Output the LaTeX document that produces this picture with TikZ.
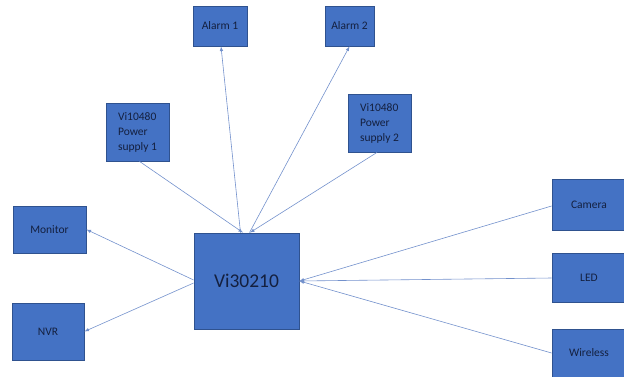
\documentclass[tikz,border=0pt]{standalone}
\usepackage{fontspec}
\setmainfont{Carlito}
\usetikzlibrary{calc}
\definecolor{boxblue}{HTML}{4472C4}
\definecolor{boxedge}{HTML}{2F528F}
\definecolor{txtnavy}{HTML}{14203F}
\definecolor{wireblue}{HTML}{7391CC}
\begin{document}
\begin{tikzpicture}[>=latex, x=1pt, y=-1pt,
  unit/.style={draw=boxedge, line width=.8pt, fill=boxblue, text=txtnavy, inner sep=0pt,
    font=\fontsize{11.5}{15}\selectfont},
  wire/.style={->, draw=wireblue, line width=.6pt}]
\useasboundingbox (0,0) rectangle (624,376);
% controller
\node[unit, minimum width=105, minimum height=96, font=\fontsize{19.5}{23}\selectfont] (vi) at (246.5,281) {Vi30210};
% top row
\node[unit, minimum width=54, minimum height=40] (alarmA) at (220,26) {Alarm 1};
\node[unit, minimum width=49, minimum height=40] (alarmB) at (349.5,26) {Alarm 2};
\node[unit, minimum width=63, minimum height=58, align=left] (psA) at (137.5,132) {Vi10480\\Power\\supply 1};
\node[unit, minimum width=63, minimum height=58, align=left] (psB) at (379.5,123) {Vi10480\\Power\\supply 2};
% left side
\node[unit, minimum width=73, minimum height=47] (monitor) at (49.5,229.5) {Monitor};
\node[unit, minimum width=72, minimum height=57] (nvr) at (48,331.5) {NVR};
% right side
\node[unit, minimum width=74, minimum height=51] (camera) at (589,205) {Camera};
\node[unit, minimum width=74, minimum height=49] (led) at (589,277.5) {LED};
\node[unit, minimum width=74, minimum height=48] (wireless) at (589,353) {Wireless};
% connections
\draw[wire] ($(psA.south)+(2,0)$)--($(vi.north)+(-3.5,0)$);
\draw[wire] ($(psB.south)+(-2.5,0)$)--($(vi.north)+(3.5,0)$);
\draw[wire] ($(vi.north)+(-6,0)$)--($(alarmA.south)+(1,0)$);
\draw[wire] ($(vi.north)+(3,0)$)--(alarmB.south);
\draw[wire] ($(vi.west)+(0,-1)$)--(monitor.east);
\draw[wire] ($(vi.west)+(0,2)$)--(nvr.east);
\draw[wire] ($(camera.west)+(0,1)$)--(vi.east);
\draw[wire] ($(led.west)+(0,0.5)$)--(vi.east);
\draw[wire] (wireless.west)--(vi.east);
\end{tikzpicture}
\end{document}
